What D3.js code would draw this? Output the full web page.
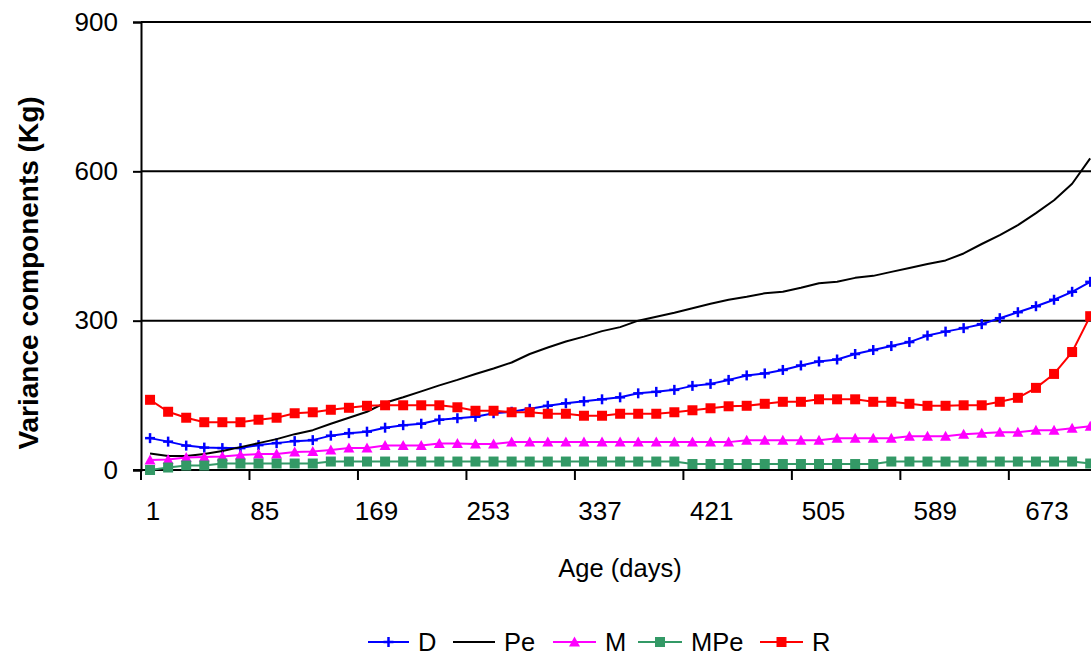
<!DOCTYPE html>
<html>
<head>
<meta charset="utf-8">
<script src="https://cdn.jsdelivr.net/npm/d3@7"></script>
<style>
  html, body { margin: 0; padding: 0; background: #fff; }
  svg { display: block; font-family: "Liberation Sans", Arial, sans-serif; }
</style>
</head>
<body>
<svg id="chart" width="1091" height="655"></svg>
<script>
// ---- Data ----
const ages = [1,15,29,43,57,71,85,99,113,127,141,155,169,183,197,211,225,239,253,267,281,295,309,323,337,351,365,379,393,407,421,435,449,463,477,491,505,519,533,547,561,575,589,603,617,631,645,659,673,687,701,715,729];
const tickLabels = ["1","85","169","253","337","421","505","589","673"];
const yTicks = [0, 300, 600, 900];

const seriesD   = [64,57,49,45,44,44,50,54,58,60,69,74,77,85,90,93,101,104,107,114,117,123,129,134,138,142,146,154,157,161,169,173,181,190,194,201,210,218,222,233,241,249,257,270,278,285,293,305,317,329,342,358,378];
const seriesPe  = [33,28,28,32,38,46,54,62,72,80,93,105,117,135,146,158,170,181,193,204,216,233,246,258,268,279,287,300,308,316,325,334,342,348,355,358,366,375,378,386,390,398,406,414,421,435,454,472,492,516,542,575,626];
const seriesM   = [20,21,25,26,27,30,32,32,36,37,40,44,44,49,49,49,53,53,52,52,56,56,56,56,56,56,56,56,56,56,56,56,56,60,60,60,60,60,64,64,64,64,68,68,68,72,74,76,76,80,80,84,88];
const seriesMPe = [0,5,9,9,13,13,13,13,13,13,17,17,17,17,17,17,17,17,17,17,17,17,17,17,17,17,17,17,17,17,12,12,12,12,12,12,12,12,12,12,12,17,17,17,17,17,17,17,17,17,17,17,13];
const seriesR   = [141,117,105,96,96,96,101,105,114,116,121,125,129,130,130,130,130,126,119,119,116,116,113,113,109,109,113,113,113,116,120,124,128,129,133,137,137,142,142,142,137,137,133,129,129,130,130,137,145,165,193,237,309];

const seriesNames = ["D","Pe","M","MPe","R"];
const seriesColors = ["#0000FF","#000000","#FF00FF","#339966","#FF0000"];
const seriesMarkers = ["plus","none","triangle","square","square"];

(function () {
// ---- Layout ----
const svg = d3.select("#chart");
const plotLeft = 141, plotTop = 22, plotBottom = 470;
const bandW = 18.08;
const plotRight = plotLeft + ages.length * bandW;

const x = d3.scaleBand().domain(ages.map((d, i) => i)).range([plotLeft, plotRight]).paddingInner(0).paddingOuter(0);
const xc = i => x(i) + x.bandwidth() / 2;
const y = d3.scaleLinear().domain([0, 900]).range([plotBottom, plotTop]);
// tick labels are spread slightly wider than the categories in the original
const xLab = d3.scalePoint().domain(tickLabels).range([153, 1047]);

// gridlines
svg.append("g").selectAll("line").data(yTicks.filter(t => t > 0)).join("line")
  .attr("x1", plotLeft).attr("x2", plotRight)
  .attr("y1", d => y(d)).attr("y2", d => y(d))
  .attr("stroke", "#000").attr("stroke-width", 2);

// y axis
const yAxis = d3.axisLeft(y).tickValues(yTicks).tickSize(8).tickPadding(15).tickFormat(d3.format("d"));
const gy = svg.append("g").attr("transform", `translate(${plotLeft},0)`).call(yAxis);
gy.select(".domain").attr("stroke", "#000").attr("stroke-width", 2);
gy.selectAll(".tick line").attr("stroke", "#000").attr("stroke-width", 2);
gy.selectAll(".tick text").attr("font-size", 26).attr("fill", "#000")
  .attr("font-family", "Liberation Sans, Arial, sans-serif");

// x axis: ticks at category boundaries every 6 categories
const tickIdx = tickLabels.map((t, k) => k * 6);
const gx = svg.append("g");
gx.append("line").attr("x1", plotLeft - 8).attr("x2", plotRight).attr("y1", plotBottom).attr("y2", plotBottom)
  .attr("stroke", "#000").attr("stroke-width", 2);
gx.selectAll("line.tk").data(tickIdx).join("line").attr("class", "tk")
  .attr("x1", d => x(d)).attr("x2", d => x(d))
  .attr("y1", plotBottom).attr("y2", plotBottom + 10)
  .attr("stroke", "#000").attr("stroke-width", 2);
gx.selectAll("text").data(tickLabels).join("text")
  .attr("x", d => xLab(d)).attr("y", 520)
  .attr("text-anchor", "middle").attr("font-size", 26).attr("fill", "#000")
  .text(d => d);

// axis titles
svg.append("text").attr("x", 620).attr("y", 577).attr("text-anchor", "middle")
  .attr("font-size", 25.5).attr("fill", "#000").text("Age (days)");
svg.append("text").attr("transform", "translate(38,273) rotate(-90)").attr("text-anchor", "middle")
  .attr("font-size", 28).attr("font-weight", "bold").attr("fill", "#000").text("Variance components (Kg)");

// markers
function drawMarker(g, type, color, cx, cy) {
  if (type === "square") {
    g.append("rect").attr("x", cx - 5).attr("y", cy - 5).attr("width", 10).attr("height", 10).attr("fill", color);
  } else if (type === "triangle") {
    g.append("path").attr("d", `M${cx},${cy - 5.5}L${cx + 5.5},${cy + 4.5}L${cx - 5.5},${cy + 4.5}Z`).attr("fill", color);
  } else if (type === "plus") {
    g.append("line").attr("x1", cx).attr("x2", cx).attr("y1", cy - 5).attr("y2", cy + 5)
      .attr("stroke", color).attr("stroke-width", 2.5);
    g.append("line").attr("x1", cx - 5).attr("x2", cx + 5).attr("y1", cy).attr("y2", cy)
      .attr("stroke", color).attr("stroke-width", 2.5);
  }
}

const allSeries = [seriesD, seriesPe, seriesM, seriesMPe, seriesR];
const line = d3.line().x((d, i) => xc(i)).y(d => y(d));
allSeries.forEach((vals, s) => {
  const g = svg.append("g");
  g.append("path").datum(vals).attr("d", line).attr("fill", "none")
    .attr("stroke", seriesColors[s]).attr("stroke-width", 2).attr("stroke-linejoin", "round");
  if (seriesMarkers[s] !== "none") {
    vals.forEach((v, i) => drawMarker(g, seriesMarkers[s], seriesColors[s], xc(i), y(v)));
  }
});

// legend
const legendLines = [[368,409],[453,495],[553,596],[638,682],[760,803]];
const legendY = 642;
seriesNames.forEach((name, s) => {
  const g = svg.append("g");
  const [a, b] = legendLines[s];
  g.append("line").attr("x1", a).attr("x2", b).attr("y1", legendY).attr("y2", legendY)
    .attr("stroke", seriesColors[s]).attr("stroke-width", 2);
  if (seriesMarkers[s] !== "none") drawMarker(g, seriesMarkers[s], seriesColors[s], (a + b) / 2, legendY);
  g.append("text").attr("x", b + 9).attr("y", legendY + 9).attr("font-size", 25.5).attr("fill", "#000").text(name);
});
})();
</script>
</body>
</html>
